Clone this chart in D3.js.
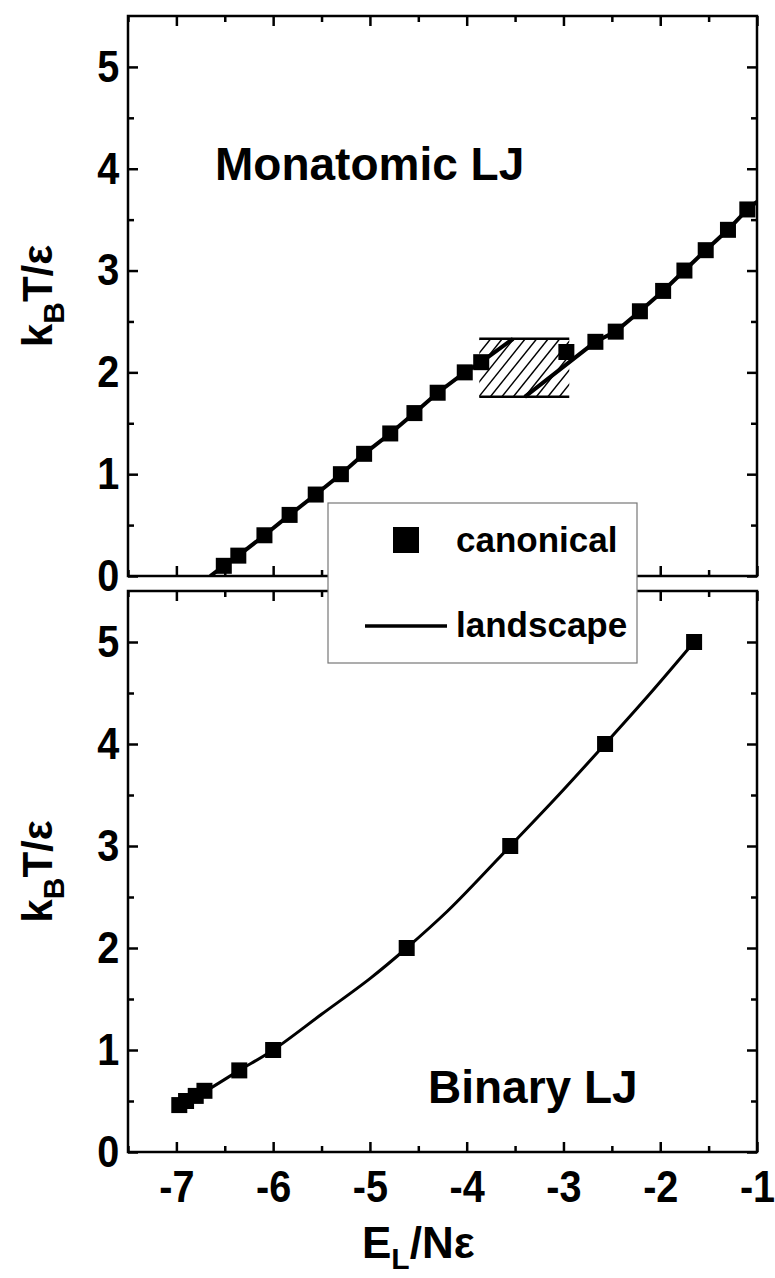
<!DOCTYPE html>
<html>
<head>
<meta charset="utf-8">
<script src="https://cdn.jsdelivr.net/npm/d3@7"></script>
<style>
body { margin: 0; background: #fff; }
text { font-family: "Liberation Sans", Arial, sans-serif; font-weight: bold; }
</style>
</head>
<body>
<div id="chart"></div>
<script>
// monatomic LJ, canonical points  [E_L/Ne, kT/e]
var monoCanonical = [
  [-6.51, 0.1], [-6.36, 0.2], [-6.09, 0.4], [-5.83, 0.6], [-5.56, 0.8],
  [-5.30, 1.0], [-5.06, 1.2], [-4.79, 1.4], [-4.54, 1.6], [-4.30, 1.8],
  [-4.02, 2.0], [-3.85, 2.1], [-2.97, 2.2], [-2.67, 2.3], [-2.46, 2.4],
  [-2.21, 2.6], [-1.97, 2.8], [-1.75, 3.0], [-1.53, 3.2], [-1.30, 3.4],
  [-1.10, 3.6]
];
// landscape curve, two branches on each side of the coexistence region
var monoLandLow = [
  [-6.65, 0.0], [-6.51, 0.1], [-6.36, 0.2], [-6.09, 0.4], [-5.83, 0.6],
  [-5.56, 0.8], [-5.30, 1.0], [-5.06, 1.2], [-4.79, 1.4], [-4.54, 1.6],
  [-4.30, 1.8], [-4.02, 2.0], [-3.85, 2.1], [-3.52, 2.33]
];
var monoLandHigh = [
  [-3.40, 1.76], [-2.67, 2.3], [-2.46, 2.4], [-2.21, 2.6], [-1.97, 2.8],
  [-1.75, 3.0], [-1.53, 3.2], [-1.30, 3.4], [-1.10, 3.6], [-0.98, 3.69]
];
// hatched coexistence box
var hatchX = [-3.87, -2.94];
var hatchY = [1.76, 2.33];

// binary LJ
var binCanonical = [
  [-6.97, 0.46], [-6.90, 0.50], [-6.80, 0.55], [-6.71, 0.60], [-6.35, 0.80],
  [-6.00, 1.00], [-4.62, 2.00], [-3.55, 3.00], [-2.57, 4.00], [-1.65, 5.00]
];
var binLand = [
  [-6.98, 0.45], [-6.71, 0.59], [-6.35, 0.80], [-6.00, 1.00], [-5.50, 1.35],
  [-5.00, 1.70], [-4.62, 2.00], [-4.20, 2.36], [-3.95, 2.60], [-3.55, 3.00],
  [-3.05, 3.50], [-2.57, 4.00], [-2.10, 4.50], [-1.65, 5.00]
];

var xTicks = [-7, -6, -5, -4, -3, -2, -1];
var xMinor = [-7.5, -6.5, -5.5, -4.5, -3.5, -2.5, -1.5];
var yTicks = [0, 1, 2, 3, 4, 5];
var yMinor = [0.5, 1.5, 2.5, 3.5, 4.5];
var legendLabels = ["canonical", "landscape"];

var W = 775, H = 1278;
var left = 128, right = 757;

var svg = d3.select("#chart").append("svg")
  .attr("width", W).attr("height", H);

var x = d3.scaleLinear().domain([-7.5, -1]).range([left, right]);
var yTop = d3.scaleLinear().domain([0, 5.5]).range([576, 16]);
var yBot = d3.scaleLinear().domain([0, 5.5]).range([1152, 591]);

function panel(y, id, showX) {
  var g = svg.append("g");
  var y0 = y.range()[0], y1 = y.range()[1];

  g.append("clipPath").attr("id", id)
    .append("rect").attr("x", left).attr("y", y1)
    .attr("width", right - left).attr("height", y0 - y1);

  function ax(gen, scale, vals, size, tx, ty, labels) {
    var a = gen(scale).tickValues(vals).tickSizeInner(-size).tickSizeOuter(0)
      .tickPadding(10);
    if (labels) a.tickFormat(function (d) { return String(d); });
    else a.tickFormat("");
    var s = g.append("g").attr("transform", "translate(" + tx + "," + ty + ")").call(a);
    s.select(".domain").remove();
    s.selectAll(".tick line").attr("stroke", "#000").attr("stroke-width", 2.5);
    s.selectAll("text").attr("font-size", 45).attr("fill", "#000")
      .attr("transform", "scale(0.88,1)");
    return s;
  }
  ax(d3.axisLeft, y, yTicks, 10, left, 0, true);
  ax(d3.axisLeft, y, yMinor, 6, left, 0, false);
  ax(d3.axisRight, y, yTicks, 10, right, 0, false);
  ax(d3.axisRight, y, yMinor, 6, right, 0, false);
  ax(d3.axisTop, x, xTicks, 10, 0, y1, false);
  ax(d3.axisTop, x, xMinor, 6, 0, y1, false);
  var b = ax(d3.axisBottom, x, xTicks, 10, 0, y0, showX);
  ax(d3.axisBottom, x, xMinor, 6, 0, y0, false);
  if (showX) b.selectAll("text").attr("dy", "0.9em");

  g.append("rect").attr("x", left).attr("y", y1)
    .attr("width", right - left).attr("height", y0 - y1)
    .attr("fill", "none").attr("stroke", "#000").attr("stroke-width", 2.5);

  // y label
  var yl = g.append("text")
    .attr("transform", "translate(52," + ((y0 + y1) / 2) + ") rotate(-90)")
    .attr("text-anchor", "middle").attr("font-size", 42);
  yl.append("tspan").text("k");
  yl.append("tspan").attr("font-size", 30).attr("dy", 12).text("B");
  yl.append("tspan").attr("dy", -12).text("T/\u03b5");

  return g.append("g").attr("clip-path", "url(#" + id + ")");
}

var topG = panel(yTop, "clipTop", false);
var botG = panel(yBot, "clipBot", true);

// hatched region
var hx0 = x(hatchX[0]), hx1 = x(hatchX[1]);
var hy0 = yTop(hatchY[0]), hy1 = yTop(hatchY[1]);
svg.append("clipPath").attr("id", "clipHatch")
  .append("rect").attr("x", hx0).attr("y", hy1)
  .attr("width", hx1 - hx0).attr("height", hy0 - hy1);
var hg = svg.append("g").attr("clip-path", "url(#clipHatch)");
var hh = hy0 - hy1, run = hh * 0.8;
d3.range(hx0 - run, hx1, 11.5).forEach(function (s) {
  hg.append("line").attr("x1", s).attr("y1", hy0).attr("x2", s + run).attr("y2", hy1)
    .attr("stroke", "#000").attr("stroke-width", 1.4);
});
[hy0, hy1].forEach(function (yy) {
  svg.append("line").attr("x1", hx0).attr("x2", hx1).attr("y1", yy).attr("y2", yy)
    .attr("stroke", "#000").attr("stroke-width", 2.5);
});

function lineGen(y, curve) {
  return d3.line().x(function (d) { return x(d[0]); })
    .y(function (d) { return y(d[1]); }).curve(curve || d3.curveLinear);
}

[monoLandLow, monoLandHigh].forEach(function (seg) {
  topG.append("path").datum(seg).attr("d", lineGen(yTop))
    .attr("fill", "none").attr("stroke", "#000").attr("stroke-width", 4);
});
topG.selectAll("rect.pt").data(monoCanonical).enter().append("rect")
  .attr("class", "pt")
  .attr("x", function (d) { return x(d[0]) - 8; })
  .attr("y", function (d) { return yTop(d[1]) - 8; })
  .attr("width", 16).attr("height", 16).attr("fill", "#000");

botG.append("path").datum(binLand).attr("d", lineGen(yBot, d3.curveCatmullRom))
  .attr("fill", "none").attr("stroke", "#000").attr("stroke-width", 3);
botG.selectAll("rect.pt").data(binCanonical).enter().append("rect")
  .attr("class", "pt")
  .attr("x", function (d) { return x(d[0]) - 8; })
  .attr("y", function (d) { return yBot(d[1]) - 8; })
  .attr("width", 16).attr("height", 16).attr("fill", "#000");

// panel captions
svg.append("text").attr("x", 215).attr("y", 180).attr("font-size", 46).text("Monatomic LJ");
svg.append("text").attr("x", 428).attr("y", 1103).attr("font-size", 46).text("Binary LJ");

// x title
var xt = svg.append("text").attr("x", 362).attr("y", 1258).attr("font-size", 44);
xt.append("tspan").text("E");
xt.append("tspan").attr("font-size", 30).attr("dy", 11).text("L");
xt.append("tspan").attr("dy", -11).text("/N\u03b5");

// legend
var lg = svg.append("g");
lg.append("rect").attr("x", 328).attr("y", 503).attr("width", 309).attr("height", 160)
  .attr("fill", "#fff").attr("stroke", "#777").attr("stroke-width", 1.2);
lg.append("rect").attr("x", 393).attr("y", 527).attr("width", 26).attr("height", 26).attr("fill", "#000");
lg.append("line").attr("x1", 365).attr("x2", 447).attr("y1", 626).attr("y2", 626)
  .attr("stroke", "#000").attr("stroke-width", 3.5);
lg.selectAll("text.lab").data(legendLabels).enter().append("text")
  .attr("class", "lab")
  .attr("x", 456).attr("y", function (d, i) { return 552 + i * 85; })
  .attr("font-size", 35).text(function (d) { return d; });
</script>
</body>
</html>
